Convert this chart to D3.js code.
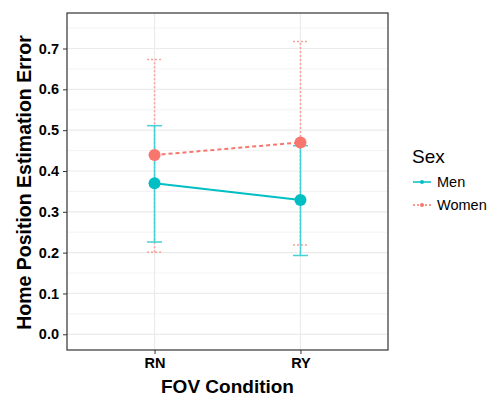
<!DOCTYPE html>
<html>
<head>
<meta charset="utf-8">
<script src="https://cdn.jsdelivr.net/npm/d3@7"></script>
<style>
  body { margin: 0; background: #fff; }
  svg { font-family: "Liberation Sans", Arial, sans-serif; }
</style>
</head>
<body>
<svg></svg>
<script>
let conditions = ['RN', 'RY']
let seriesNames = ['Men', 'Women']
let menMean = [0.370, 0.329]
let menLow = [0.226, 0.193]
let menHigh = [0.511, 0.462]
let womenMean = [0.439, 0.470]
let womenLow = [0.201, 0.219]
let womenHigh = [0.673, 0.717]
let yTicks = [0.0, 0.1, 0.2, 0.3, 0.4, 0.5, 0.6, 0.7]

let colors = { Men: '#00BFC4', Women: '#F8766D' }
// error bars are drawn a bit lighter than the points
let barColors = { Men: '#45d1d5', Women: '#f9a09a' }

let width = 493
let height = 398
let panelLeft = 67
let panelRight = 388
let panelTop = 13
let panelBottom = 350

let svg = d3.select('svg').attr('width', width).attr('height', height)

let series = [
  { name: 'Men', mean: menMean, low: menLow, high: menHigh, dash: null, barDash: null },
  { name: 'Women', mean: womenMean, low: womenLow, high: womenHigh, dash: '4,3', barDash: '2,2' }
]

// discrete expansion like ggplot: positions 1,2 within [0.4, 2.6]
let xPos = d3.scaleLinear().domain([0.4, 2.6]).range([panelLeft, panelRight])
let x = (c) => xPos(conditions.indexOf(c) + 1)

let yScale = d3.scaleLinear()
  .domain([-0.0385, 0.787])
  .range([panelBottom, panelTop])

// grid
let grid = svg.append('g')
let minor = d3.range(-0.05, 0.8, 0.1).filter(v => v > -0.0385 && v < 0.787)
grid.selectAll('.minor').data(minor).enter().append('line')
  .attr('x1', panelLeft).attr('x2', panelRight)
  .attr('y1', d => yScale(d)).attr('y2', d => yScale(d))
  .attr('stroke', '#f0f0f0').attr('stroke-width', 0.8)
grid.selectAll('.major').data(yTicks).enter().append('line')
  .attr('x1', panelLeft).attr('x2', panelRight)
  .attr('y1', d => yScale(d)).attr('y2', d => yScale(d))
  .attr('stroke', '#ebebeb').attr('stroke-width', 1.2)
grid.selectAll('.vmajor').data(conditions).enter().append('line')
  .attr('x1', d => x(d)).attr('x2', d => x(d))
  .attr('y1', panelTop).attr('y2', panelBottom)
  .attr('stroke', '#ebebeb').attr('stroke-width', 1.2)

// error bars (women underneath, men on top)
series.slice().reverse().forEach(s => {
  let g = svg.append('g')
  conditions.forEach((c, i) => {
    let cx = x(c)
    g.append('line')
      .attr('x1', cx).attr('x2', cx)
      .attr('y1', yScale(s.low[i])).attr('y2', yScale(s.high[i]))
      .attr('stroke', barColors[s.name]).attr('stroke-width', 1.5)
      .attr('stroke-dasharray', s.barDash)
    ;[s.low[i], s.high[i]].forEach(v => {
      g.append('line')
        .attr('x1', cx - 7.5).attr('x2', cx + 7.5)
        .attr('y1', yScale(v)).attr('y2', yScale(v))
        .attr('stroke', barColors[s.name]).attr('stroke-width', 1.5)
        .attr('stroke-dasharray', s.barDash)
    })
  })
})

// lines + points
let line = d3.line().x((d, i) => x(conditions[i])).y(d => yScale(d))
series.forEach(s => {
  svg.append('path')
    .attr('d', line(s.mean))
    .attr('fill', 'none')
    .attr('stroke', colors[s.name]).attr('stroke-width', 2)
    .attr('stroke-dasharray', s.dash)
  svg.selectAll('.pt-' + s.name).data(s.mean).enter().append('circle')
    .attr('cx', (d, i) => x(conditions[i]))
    .attr('cy', d => yScale(d))
    .attr('r', 6)
    .attr('fill', colors[s.name])
})

// panel border
svg.append('rect')
  .attr('x', panelLeft).attr('y', panelTop)
  .attr('width', panelRight - panelLeft).attr('height', panelBottom - panelTop)
  .attr('fill', 'none').attr('stroke', '#333').attr('stroke-width', 1.2)

// axes
let yAxis = d3.axisLeft(yScale).tickValues(yTicks).tickFormat(d3.format('.1f')).tickSize(4).tickPadding(4)
let yg = svg.append('g').attr('transform', 'translate(' + panelLeft + ',0)').call(yAxis)
yg.select('.domain').remove()
yg.selectAll('line').attr('stroke', '#333')
yg.selectAll('text').style('font-size', '14.5px').style('font-weight', 'bold').attr('fill', '#000')

let xAxis = d3.axisBottom(xPos).tickValues([1, 2]).tickFormat(d => conditions[d - 1]).tickSize(4).tickPadding(4)
let xg = svg.append('g').attr('transform', 'translate(0,' + panelBottom + ')').call(xAxis)
xg.select('.domain').remove()
xg.selectAll('line').attr('stroke', '#333')
xg.selectAll('text').style('font-size', '14.5px').style('font-weight', 'bold').attr('fill', '#000')

// titles
svg.append('text')
  .attr('x', (panelLeft + panelRight) / 2).attr('y', 393)
  .attr('text-anchor', 'middle')
  .style('font-size', '19px').style('font-weight', 'bold')
  .text('FOV Condition')

svg.append('text')
  .attr('transform', 'translate(31,' + ((panelTop + panelBottom) / 2 + 1) + ') rotate(-90)')
  .attr('text-anchor', 'middle')
  .style('font-size', '19.5px').style('font-weight', 'bold')
  .text('Home Position Estimation Error')

// legend
let legend = svg.append('g').attr('transform', 'translate(412,0)')
legend.append('text').attr('x', 0).attr('y', 163)
  .style('font-size', '19px').text('Sex')
series.forEach((s, i) => {
  let ly = 182 + i * 23
  legend.append('line')
    .attr('x1', 1).attr('x2', 19).attr('y1', ly).attr('y2', ly)
    .attr('stroke', colors[s.name]).attr('stroke-width', 1.5)
    .attr('stroke-dasharray', s.dash ? '2,2' : null)
  legend.append('circle').attr('cx', 10).attr('cy', ly).attr('r', 2)
    .attr('fill', colors[s.name])
  legend.append('text').attr('x', 25).attr('y', ly + 5)
    .style('font-size', '14.5px').text(s.name)
})
</script>
</body>
</html>
